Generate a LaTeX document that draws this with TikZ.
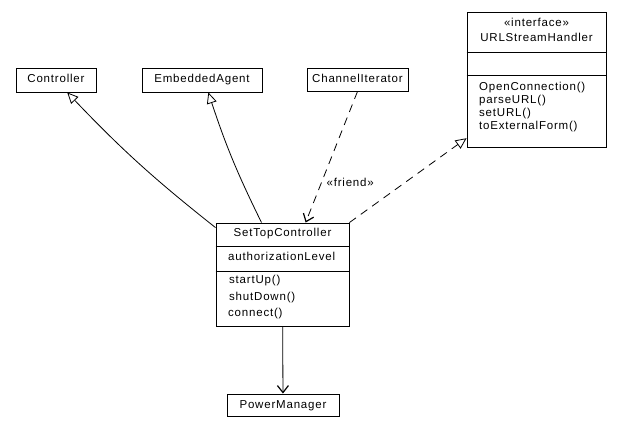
\documentclass[tikz,border=0pt]{standalone}
\usepackage{fontspec}
\setmainfont{Liberation Sans}[LetterSpace=7]
\usetikzlibrary{arrows.meta}

\begin{document}
\begin{tikzpicture}[
        x=1pt, y=-1pt,
        font=\fontsize{11.5}{12.7}\selectfont,
        every node/.style={inner sep=0pt, text height=8.5pt, text depth=2.5pt},
        box/.style={draw, rectangle, line width=0.9pt},
        edge/.style={draw, line width=0.8pt},
        inherit/.style={edge, -{Triangle[open, length=11pt, width=10pt]}},
        realize/.style={inherit, dash pattern=on 8pt off 6pt},
        depend/.style={edge, dash pattern=on 8pt off 6pt, -{Straight Barb[length=7pt, width=11pt, line width=1.2pt]}},
        assoc/.style={edge, -{Straight Barb[length=7pt, width=11pt, line width=1.2pt]}},
        member/.style={anchor=west},
    ]

    \useasboundingbox[fill=white] (0,0) rectangle (621,435);

    % === TOP ROW: plain classes ===
    \node[box, minimum width=80pt, minimum height=24pt] (ctrl) at (56,80) {Controller};
    \node[box, minimum width=120pt, minimum height=24pt] (agent) at (202,80) {EmbeddedAgent};
    \node[box, minimum width=101pt, minimum height=23pt] (chan) at (357.5,79.5) {ChannelIterator};

    % === INTERFACE: URLStreamHandler ===
    \node[box, minimum width=139pt, minimum height=135pt] (url) at (536.5,79.5) {};
    \node (urlstereo) at (536.5,24) {«interface»};
    \node (urlname) at (536.5,39) {URLStreamHandler};
    \coordinate (urldiv1) at (0,52);
    \coordinate (urldiv2) at (0,75);
    \draw[edge] (url.west |- urldiv1) -- (url.east |- urldiv1);
    \draw[edge] (url.west |- urldiv2) -- (url.east |- urldiv2);
    \node[member] (urlop1) at (479,88) {OpenConnection()};
    \node[member] (urlop2) at (479,100.7) {parseURL()};
    \node[member] (urlop3) at (479,113.4) {setURL()};
    \node[member] (urlop4) at (479,126.1) {toExternalForm()};

    % === MAIN CLASS: SetTopController ===
    \node[box, minimum width=133pt, minimum height=103pt] (stc) at (282.5,274.5) {};
    \node (stcname) at (282.5,234) {SetTopController};
    \coordinate (stcdiv1) at (0,246);
    \coordinate (stcdiv2) at (0,271);
    \draw[edge] (stc.west |- stcdiv1) -- (stc.east |- stcdiv1);
    \draw[edge] (stc.west |- stcdiv2) -- (stc.east |- stcdiv2);
    \node[member] (stcattr) at (228,258) {authorizationLevel};
    \node[member] (stcop1) at (229,281) {startUp()};
    \node[member] (stcop2) at (229,298) {shutDown()};
    \node[member] (stcop3) at (228,314) {connect()};

    % --- PowerManager ---
    \node[box, minimum width=112pt, minimum height=22pt] (power) at (283,405) {PowerManager};

    % === RELATIONS ===
    \draw[inherit] (stc.145) to[bend left=4] (ctrl.-48);
    \draw[inherit] (stc.112) to[bend left=4] (agent.-63);
    \draw[depend] (chan.south) -- (stc.66)
        node[pos=0.7, anchor=west, xshift=5pt] (friend) {«friend»};
    \draw[realize] (stc.north east) -- (url.220);
    \draw[assoc] (stc) -- (power);

\end{tikzpicture}
\end{document}
